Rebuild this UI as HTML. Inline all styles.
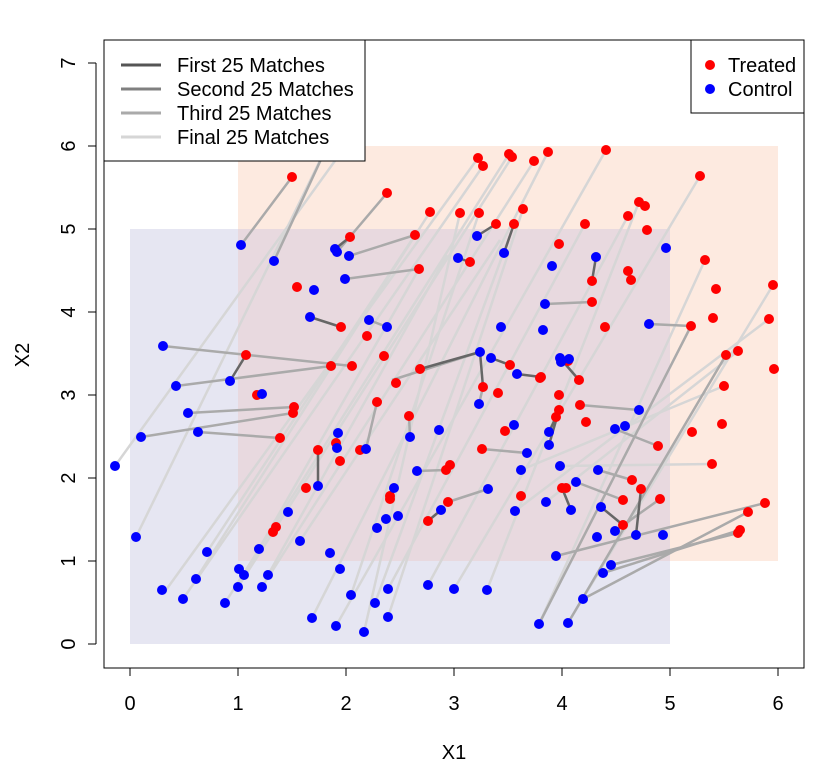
<!DOCTYPE html>
<html><head><meta charset="utf-8"><style>
body{margin:0;background:#fff}
svg{display:block;font-family:"Liberation Sans",sans-serif}
circle{r:5px}
</style></head><body>
<svg width="818" height="768" viewBox="0 0 818 768">
<rect x="130" y="229" width="540" height="415" fill="#e6e6f2"/>
<rect x="238" y="146" width="540" height="415" fill="#fdeae0"/>
<rect x="238" y="229" width="432" height="332" fill="#e8d9df"/>
<g stroke="#d6d6d6" stroke-width="2.5" fill="none">
<line x1="136" y1="537" x2="330" y2="140"/>
<line x1="166" y1="590" x2="478" y2="158"/>
<line x1="183" y1="599" x2="483" y2="166"/>
<line x1="225" y1="603" x2="509" y2="154"/>
<line x1="238" y1="587" x2="512" y2="157"/>
<line x1="262" y1="587" x2="534" y2="161"/>
<line x1="312" y1="618" x2="548" y2="152"/>
<line x1="336" y1="626" x2="606" y2="150"/>
<line x1="351" y1="595" x2="479" y2="213"/>
<line x1="364" y1="632" x2="460" y2="213"/>
<line x1="375" y1="603" x2="514" y2="224"/>
<line x1="388" y1="617" x2="523" y2="209"/>
<line x1="388" y1="589" x2="585" y2="224"/>
<line x1="428" y1="585" x2="628" y2="216"/>
<line x1="454" y1="589" x2="700" y2="176"/>
<line x1="487" y1="590" x2="639" y2="202"/>
<line x1="539" y1="624" x2="705" y2="260"/>
<line x1="196" y1="579" x2="430" y2="212"/>
<line x1="207" y1="552" x2="415" y2="235"/>
<line x1="115" y1="466" x2="350" y2="140"/>
<line x1="568" y1="623" x2="773" y2="285"/>
<line x1="515" y1="511" x2="769" y2="319"/>
<line x1="521" y1="470" x2="724" y2="386"/>
<line x1="546" y1="502" x2="738" y2="351"/>
<line x1="560" y1="466" x2="712" y2="464"/>
<line x1="244" y1="575" x2="419" y2="269"/>
<line x1="268" y1="575" x2="447" y2="255"/>
<line x1="300" y1="541" x2="500" y2="240"/>
</g>
<g stroke="#aaa" stroke-width="2.5" fill="none">
<line x1="241" y1="245" x2="292" y2="177"/>
<line x1="274" y1="261" x2="330" y2="140"/>
<line x1="337" y1="252" x2="387" y2="193"/>
<line x1="349" y1="256" x2="415" y2="235"/>
<line x1="345" y1="279" x2="419" y2="269"/>
<line x1="163" y1="346" x2="352" y2="366"/>
<line x1="176" y1="386" x2="331" y2="366"/>
<line x1="188" y1="413" x2="294" y2="407"/>
<line x1="198" y1="432" x2="280" y2="438"/>
<line x1="141" y1="437" x2="293" y2="413"/>
<line x1="392" y1="380" x2="480" y2="352"/>
<line x1="580" y1="405" x2="639" y2="410"/>
<line x1="556" y1="556" x2="765" y2="503"/>
<line x1="583" y1="599" x2="748" y2="512"/>
<line x1="603" y1="573" x2="740" y2="530"/>
<line x1="611" y1="565" x2="738" y2="533"/>
<line x1="568" y1="623" x2="726" y2="355"/>
<line x1="539" y1="624" x2="691" y2="326"/>
<line x1="649" y1="324" x2="691" y2="326"/>
<line x1="545" y1="304" x2="592" y2="302"/>
<line x1="338" y1="433" x2="336" y2="443"/>
<line x1="366" y1="449" x2="377" y2="402"/>
<line x1="410" y1="437" x2="409" y2="416"/>
<line x1="417" y1="471" x2="446" y2="470"/>
<line x1="488" y1="489" x2="448" y2="502"/>
<line x1="598" y1="470" x2="632" y2="480"/>
<line x1="615" y1="531" x2="660" y2="499"/>
<line x1="576" y1="482" x2="623" y2="500"/>
<line x1="527" y1="453" x2="482" y2="449"/>
<line x1="615" y1="429" x2="658" y2="446"/>
<line x1="479" y1="404" x2="483" y2="387"/>
<line x1="369" y1="320" x2="387" y2="327"/>
</g>
<g stroke="#666" stroke-width="2.5" fill="none">
<line x1="230" y1="381" x2="246" y2="355"/>
<line x1="335" y1="249" x2="350" y2="237"/>
<line x1="477" y1="236" x2="496" y2="224"/>
<line x1="504" y1="253" x2="514" y2="224"/>
<line x1="458" y1="258" x2="470" y2="262"/>
<line x1="310" y1="317" x2="341" y2="327"/>
<line x1="420" y1="369" x2="480" y2="352"/>
<line x1="491" y1="358" x2="510" y2="365"/>
<line x1="517" y1="374" x2="541" y2="377"/>
<line x1="560" y1="358" x2="579" y2="380"/>
<line x1="549" y1="432" x2="556" y2="417"/>
<line x1="549" y1="445" x2="559" y2="410"/>
<line x1="318" y1="486" x2="318" y2="450"/>
<line x1="394" y1="488" x2="390" y2="496"/>
<line x1="441" y1="510" x2="428" y2="521"/>
<line x1="571" y1="510" x2="562" y2="488"/>
<line x1="601" y1="507" x2="623" y2="525"/>
<line x1="636" y1="535" x2="641" y2="489"/>
<line x1="596" y1="257" x2="592" y2="281"/>
<line x1="480" y1="352" x2="483" y2="387"/>
</g>
<g fill="#f00">
<circle cx="292" cy="177" r="5"/><circle cx="387" cy="193" r="5"/><circle cx="430" cy="212" r="5"/><circle cx="478" cy="158" r="5"/><circle cx="483" cy="166" r="5"/><circle cx="509" cy="154" r="5"/><circle cx="512" cy="157" r="5"/><circle cx="534" cy="161" r="5"/><circle cx="548" cy="152" r="5"/><circle cx="606" cy="150" r="5"/><circle cx="700" cy="176" r="5"/><circle cx="460" cy="213" r="5"/><circle cx="479" cy="213" r="5"/><circle cx="496" cy="224" r="5"/><circle cx="514" cy="224" r="5"/><circle cx="523" cy="209" r="5"/><circle cx="350" cy="237" r="5"/><circle cx="415" cy="235" r="5"/><circle cx="419" cy="269" r="5"/><circle cx="559" cy="244" r="5"/><circle cx="585" cy="224" r="5"/><circle cx="628" cy="216" r="5"/><circle cx="639" cy="202" r="5"/><circle cx="645" cy="206" r="5"/><circle cx="647" cy="230" r="5"/><circle cx="592" cy="281" r="5"/><circle cx="628" cy="271" r="5"/><circle cx="631" cy="280" r="5"/><circle cx="705" cy="260" r="5"/><circle cx="716" cy="289" r="5"/><circle cx="773" cy="285" r="5"/><circle cx="297" cy="287" r="5"/><circle cx="341" cy="327" r="5"/><circle cx="367" cy="336" r="5"/><circle cx="384" cy="356" r="5"/><circle cx="420" cy="369" r="5"/><circle cx="396" cy="383" r="5"/><circle cx="246" cy="355" r="5"/><circle cx="331" cy="366" r="5"/><circle cx="352" cy="366" r="5"/><circle cx="257" cy="395" r="5"/><circle cx="294" cy="407" r="5"/><circle cx="293" cy="413" r="5"/><circle cx="280" cy="438" r="5"/><circle cx="470" cy="262" r="5"/><circle cx="510" cy="365" r="5"/><circle cx="541" cy="377" r="5"/><circle cx="559" cy="395" r="5"/><circle cx="568" cy="361" r="5"/><circle cx="579" cy="380" r="5"/><circle cx="483" cy="387" r="5"/><circle cx="498" cy="393" r="5"/><circle cx="556" cy="417" r="5"/><circle cx="559" cy="410" r="5"/><circle cx="580" cy="405" r="5"/><circle cx="586" cy="422" r="5"/><circle cx="409" cy="416" r="5"/><circle cx="377" cy="402" r="5"/><circle cx="336" cy="443" r="5"/><circle cx="340" cy="461" r="5"/><circle cx="318" cy="450" r="5"/><circle cx="360" cy="450" r="5"/><circle cx="390" cy="496" r="5"/><circle cx="390" cy="499" r="5"/><circle cx="446" cy="470" r="5"/><circle cx="450" cy="465" r="5"/><circle cx="482" cy="449" r="5"/><circle cx="505" cy="431" r="5"/><circle cx="448" cy="502" r="5"/><circle cx="428" cy="521" r="5"/><circle cx="276" cy="527" r="5"/><circle cx="273" cy="532" r="5"/><circle cx="306" cy="488" r="5"/><circle cx="521" cy="496" r="5"/><circle cx="562" cy="488" r="5"/><circle cx="566" cy="488" r="5"/><circle cx="632" cy="480" r="5"/><circle cx="641" cy="489" r="5"/><circle cx="623" cy="500" r="5"/><circle cx="623" cy="525" r="5"/><circle cx="660" cy="499" r="5"/><circle cx="658" cy="446" r="5"/><circle cx="692" cy="432" r="5"/><circle cx="712" cy="464" r="5"/><circle cx="722" cy="424" r="5"/><circle cx="724" cy="386" r="5"/><circle cx="726" cy="355" r="5"/><circle cx="738" cy="351" r="5"/><circle cx="769" cy="319" r="5"/><circle cx="691" cy="326" r="5"/><circle cx="713" cy="318" r="5"/><circle cx="605" cy="327" r="5"/><circle cx="540" cy="378" r="5"/><circle cx="748" cy="512" r="5"/><circle cx="765" cy="503" r="5"/><circle cx="740" cy="530" r="5"/><circle cx="738" cy="533" r="5"/><circle cx="774" cy="369" r="5"/><circle cx="592" cy="302" r="5"/>
</g>
<g fill="#00f">
<circle cx="241" cy="245" r="5"/><circle cx="274" cy="261" r="5"/><circle cx="335" cy="249" r="5"/><circle cx="337" cy="252" r="5"/><circle cx="349" cy="256" r="5"/><circle cx="458" cy="258" r="5"/><circle cx="477" cy="236" r="5"/><circle cx="504" cy="253" r="5"/><circle cx="552" cy="266" r="5"/><circle cx="596" cy="257" r="5"/><circle cx="666" cy="248" r="5"/><circle cx="345" cy="279" r="5"/><circle cx="314" cy="290" r="5"/><circle cx="310" cy="317" r="5"/><circle cx="387" cy="327" r="5"/><circle cx="501" cy="327" r="5"/><circle cx="545" cy="304" r="5"/><circle cx="543" cy="330" r="5"/><circle cx="649" cy="324" r="5"/><circle cx="163" cy="346" r="5"/><circle cx="176" cy="386" r="5"/><circle cx="230" cy="381" r="5"/><circle cx="262" cy="394" r="5"/><circle cx="188" cy="413" r="5"/><circle cx="198" cy="432" r="5"/><circle cx="141" cy="437" r="5"/><circle cx="115" cy="466" r="5"/><circle cx="338" cy="433" r="5"/><circle cx="337" cy="448" r="5"/><circle cx="366" cy="449" r="5"/><circle cx="410" cy="437" r="5"/><circle cx="439" cy="430" r="5"/><circle cx="480" cy="352" r="5"/><circle cx="491" cy="358" r="5"/><circle cx="517" cy="374" r="5"/><circle cx="560" cy="358" r="5"/><circle cx="561" cy="362" r="5"/><circle cx="569" cy="359" r="5"/><circle cx="479" cy="404" r="5"/><circle cx="514" cy="425" r="5"/><circle cx="549" cy="432" r="5"/><circle cx="549" cy="445" r="5"/><circle cx="615" cy="429" r="5"/><circle cx="625" cy="426" r="5"/><circle cx="639" cy="410" r="5"/><circle cx="417" cy="471" r="5"/><circle cx="521" cy="470" r="5"/><circle cx="527" cy="453" r="5"/><circle cx="488" cy="489" r="5"/><circle cx="441" cy="510" r="5"/><circle cx="515" cy="511" r="5"/><circle cx="546" cy="502" r="5"/><circle cx="571" cy="510" r="5"/><circle cx="576" cy="482" r="5"/><circle cx="598" cy="470" r="5"/><circle cx="601" cy="507" r="5"/><circle cx="615" cy="531" r="5"/><circle cx="636" cy="535" r="5"/><circle cx="663" cy="535" r="5"/><circle cx="597" cy="537" r="5"/><circle cx="136" cy="537" r="5"/><circle cx="207" cy="552" r="5"/><circle cx="196" cy="579" r="5"/><circle cx="239" cy="569" r="5"/><circle cx="244" cy="575" r="5"/><circle cx="268" cy="575" r="5"/><circle cx="259" cy="549" r="5"/><circle cx="300" cy="541" r="5"/><circle cx="288" cy="512" r="5"/><circle cx="318" cy="486" r="5"/><circle cx="330" cy="553" r="5"/><circle cx="340" cy="569" r="5"/><circle cx="162" cy="590" r="5"/><circle cx="183" cy="599" r="5"/><circle cx="225" cy="603" r="5"/><circle cx="238" cy="587" r="5"/><circle cx="262" cy="587" r="5"/><circle cx="312" cy="618" r="5"/><circle cx="336" cy="626" r="5"/><circle cx="351" cy="595" r="5"/><circle cx="364" cy="632" r="5"/><circle cx="375" cy="603" r="5"/><circle cx="388" cy="617" r="5"/><circle cx="388" cy="589" r="5"/><circle cx="428" cy="585" r="5"/><circle cx="454" cy="589" r="5"/><circle cx="487" cy="590" r="5"/><circle cx="539" cy="624" r="5"/><circle cx="568" cy="623" r="5"/><circle cx="556" cy="556" r="5"/><circle cx="583" cy="599" r="5"/><circle cx="603" cy="573" r="5"/><circle cx="611" cy="565" r="5"/><circle cx="394" cy="488" r="5"/><circle cx="377" cy="528" r="5"/><circle cx="386" cy="519" r="5"/><circle cx="398" cy="516" r="5"/><circle cx="369" cy="320" r="5"/><circle cx="560" cy="466" r="5"/>
</g>
<rect x="104" y="40" width="700" height="628" fill="none" stroke="#000" stroke-width="1"/>
<g stroke="#000" stroke-width="1">
<line x1="130" y1="668" x2="778" y2="668"/>
<line x1="130" y1="668" x2="130" y2="676"/><line x1="238" y1="668" x2="238" y2="676"/><line x1="346" y1="668" x2="346" y2="676"/><line x1="454" y1="668" x2="454" y2="676"/><line x1="562" y1="668" x2="562" y2="676"/><line x1="670" y1="668" x2="670" y2="676"/><line x1="778" y1="668" x2="778" y2="676"/>
<line x1="96" y1="644" x2="96" y2="63"/>
<line x1="88" y1="644" x2="96" y2="644"/><line x1="88" y1="561" x2="96" y2="561"/><line x1="88" y1="478" x2="96" y2="478"/><line x1="88" y1="395" x2="96" y2="395"/><line x1="88" y1="312" x2="96" y2="312"/><line x1="88" y1="229" x2="96" y2="229"/><line x1="88" y1="146" x2="96" y2="146"/><line x1="88" y1="63" x2="96" y2="63"/>
</g>
<g font-size="20" text-anchor="middle" fill="#000">
<text x="130" y="710">0</text><text x="238" y="710">1</text><text x="346" y="710">2</text><text x="454" y="710">3</text><text x="562" y="710">4</text><text x="670" y="710">5</text><text x="778" y="710">6</text>
<text x="454" y="759">X1</text>
<g transform="translate(75,0)">
<text transform="translate(0,644) rotate(-90)">0</text><text transform="translate(0,561) rotate(-90)">1</text><text transform="translate(0,478) rotate(-90)">2</text><text transform="translate(0,395) rotate(-90)">3</text><text transform="translate(0,312) rotate(-90)">4</text><text transform="translate(0,229) rotate(-90)">5</text><text transform="translate(0,146) rotate(-90)">6</text><text transform="translate(0,63) rotate(-90)">7</text>
</g>
<text transform="translate(29,355) rotate(-90)">X2</text>
</g>
<rect x="104" y="40" width="261" height="121" fill="#fff" stroke="#000"/>
<g stroke-width="3">
<line x1="121" y1="65" x2="161" y2="65" stroke="#555"/>
<line x1="121" y1="89" x2="161" y2="89" stroke="#808080"/>
<line x1="121" y1="113" x2="161" y2="113" stroke="#aaa"/>
<line x1="121" y1="137" x2="161" y2="137" stroke="#d6d6d6"/>
</g>
<g font-size="20" fill="#000">
<text x="177" y="72">First 25 Matches</text>
<text x="177" y="96">Second 25 Matches</text>
<text x="177" y="120">Third 25 Matches</text>
<text x="177" y="144">Final 25 Matches</text>
</g>
<rect x="691" y="40" width="113" height="73" fill="#fff" stroke="#000"/>
<circle cx="710" cy="65" r="5" fill="#f00"/>
<circle cx="710" cy="89" r="5" fill="#00f"/>
<g font-size="20" fill="#000">
<text x="728" y="72">Treated</text>
<text x="728" y="96">Control</text>
</g>
</svg>
</body></html>
